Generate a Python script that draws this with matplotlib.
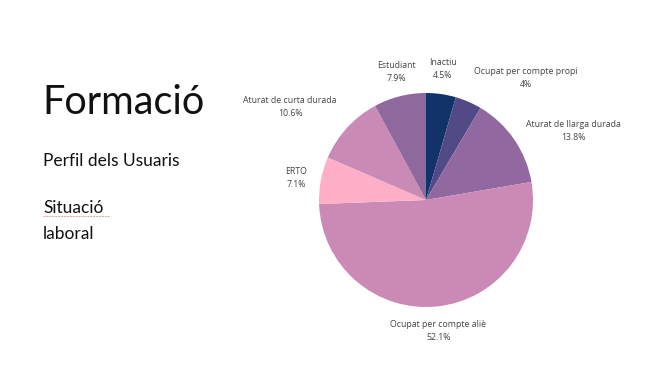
import numpy as np
import matplotlib.pyplot as plt
from matplotlib.lines import Line2D

labels = ['Inactiu', 'Ocupat per compte propi', 'Aturat de llarga durada',
          'Ocupat per compte aliè', 'ERTO', 'Aturat de curta durada', 'Estudiant']
pct = [4.5, 4, 13.8, 52.1, 7.1, 10.6, 7.9]
colors = ['#12336a', '#514a87', '#9168a0', '#cb89b5', '#fdafc8', '#c98ab6', '#8f689e']

W, H = 645, 388
fig = plt.figure(figsize=(W / 100, H / 100), dpi=100)
fig.patch.set_facecolor('white')

# left-hand slide text
fig.text(42 / W, 1 - 102 / H, 'Formació', family='Lato',
         fontsize=28.5, color='#111111', va='center', ha='left')
for txt, ypx in [('Perfil dels Usuaris', 161), ('Situació', 208), ('laboral', 234)]:
    fig.text(43 / W, 1 - ypx / H, txt, family='Lato',
             fontsize=12.5, color='#111111', va='center', ha='left')
fig.add_artist(Line2D([43 / W, 109 / W], [1 - 216 / H, 1 - 216 / H],
                      color='#e6a3a3', lw=0.7, ls=(0, (2, 1))))

# pie
cx, cy, R = 426, 200, 107
side = 2.5 * R
ax = fig.add_axes([(cx - side / 2) / W, 1 - (cy + side / 2) / H, side / W, side / H])
wedges, _ = ax.pie(pct, colors=colors, startangle=90, counterclock=False,
                   wedgeprops=dict(linewidth=0))
ax.set_xlim(-1.25, 1.25)
ax.set_ylim(-1.25, 1.25)
ax.set_aspect('equal')

for w, name, p in zip(wedges, labels, pct):
    ang = np.deg2rad((w.theta1 + w.theta2) / 2)
    c, s = np.cos(ang), np.sin(ang)
    x, y = 1.13 * c, 1.13 * s
    ha = 'center' if abs(c) < 0.3 else ('left' if c > 0 else 'right')
    va = 'center' if abs(s) < 0.6 else ('bottom' if s > 0 else 'top')
    ax.text(x, y, f'{name}\n{p:g}%', ha=ha, va=va, multialignment='center',
            family='Open Sans', fontsize=6.3, color='#444444', linespacing=1.55,
            clip_on=False)

fig.savefig('out.png', dpi=100)
